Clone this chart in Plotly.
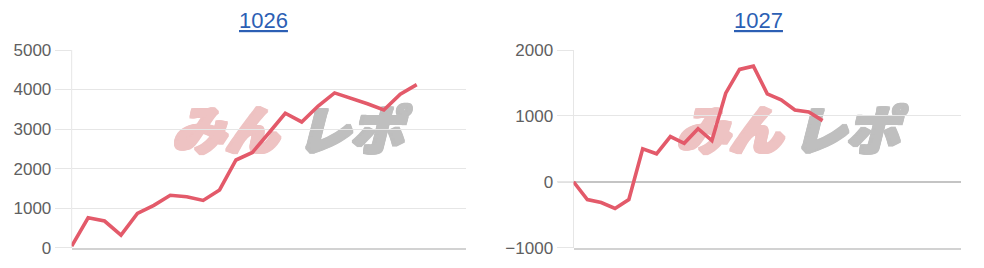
import plotly.graph_objects as go

titles = ["1026", "1027"]
values_1026 = [40, 755, 675, 320, 868, 1070, 1325, 1290, 1195, 1460, 2218, 2410,
               2900, 3400, 3180, 3583, 3915, 3785, 3640, 3482, 3885, 4125]
values_1027 = [0, -270, -315, -405, -270, 500, 425, 687, 585, 805, 625, 1345,
               1705, 1755, 1335, 1245, 1090, 1058, 928]
slots_1026 = 25
slots_1027 = 29
ticks_1026 = [0, 1000, 2000, 3000, 4000, 5000]
ticks_1027 = [-1000, 0, 1000, 2000]

W, H = 984, 268
LINE = "#e35a6a"
GRID = "#e6e6e6"
ZERO = "#c4c4c4"
BASE = "#d2d2d2"
TICKC = "#606060"
FONT = "Liberation Sans, Arial, Helvetica, sans-serif"

fig = go.Figure()
fig.add_trace(go.Scatter(x=list(range(len(values_1026))), y=values_1026, mode="lines",
                         line=dict(color=LINE, width=3.6), xaxis="x", yaxis="y",
                         showlegend=False, hoverinfo="skip"))
fig.add_trace(go.Scatter(x=list(range(len(values_1027))), y=values_1027, mode="lines",
                         line=dict(color=LINE, width=3.6), xaxis="x2", yaxis="y2",
                         showlegend=False, hoverinfo="skip"))

ydom = [(H - 247.7) / H, (H - 50) / H]
xdom1 = [71.7 / W, 466 / W]
xdom2 = [573.5 / W, 961 / W]

common_y = dict(showgrid=True, gridcolor=GRID, gridwidth=1, zeroline=True,
                zerolinecolor=ZERO, zerolinewidth=1.5, ticks="outside", ticklen=16,
                tickcolor=GRID, tickfont=dict(family=FONT, size=17, color=TICKC),
                showline=False, fixedrange=True, automargin=False)
common_x = dict(showgrid=False, zeroline=False, showticklabels=False, ticks="",
                showline=True, linecolor=BASE, linewidth=1.5, mirror=False,
                fixedrange=True, automargin=False)

fig.update_layout(
    width=W, height=H, autosize=False,
    margin=dict(l=0, r=0, t=0, b=0, pad=0, autoexpand=False),
    paper_bgcolor="white", plot_bgcolor="white",
    xaxis=dict(domain=xdom1, range=[0, slots_1026 - 1], anchor="y", **common_x),
    yaxis=dict(domain=ydom, range=[0, 5000], tickvals=ticks_1026, anchor="x", **common_y),
    xaxis2=dict(domain=xdom2, range=[0, slots_1027 - 1], anchor="y2", **common_x),
    yaxis2=dict(domain=ydom, range=[-1000, 2000], tickvals=ticks_1027, anchor="x2", **common_y),
)

# y-axis vertical border lines
for xd in (xdom1, xdom2):
    fig.add_shape(type="line", xref="paper", yref="paper", x0=xd[0], x1=xd[0],
                  y0=ydom[0], y1=ydom[1], line=dict(color=GRID, width=1), layer="below")
# darker tick stubs for the zero / base lines
fig.add_shape(type="line", xref="paper", yref="y2", x0=xdom2[0] - 16 / W, x1=xdom2[0],
              y0=0, y1=0, line=dict(color=ZERO, width=1.5), layer="below")
fig.add_shape(type="line", xref="paper", yref="y2", x0=xdom2[0] - 16 / W, x1=xdom2[0],
              y0=-1000, y1=-1000, line=dict(color=BASE, width=1.5), layer="below")
fig.add_shape(type="line", xref="paper", yref="y", x0=xdom1[0] - 16 / W, x1=xdom1[0],
              y0=0, y1=0, line=dict(color=BASE, width=1.5), layer="below")

# titles
for t, cx in zip(titles, (263.5 / W, 758.5 / W)):
    fig.add_annotation(text="<u>" + t + "</u>", x=cx, y=(H - 21) / H, xref="paper", yref="paper",
                       showarrow=False, xanchor="center", yanchor="middle",
                       font=dict(family=FONT, size=22, color="#2c5fb4"))

# watermark (drawn between grid and traces), faux-bold via small offsets
wm = [("みん", 225, "#eec3c3"), ("レポ", 350, "#bfbfbf"),
      ("みん", 729, "#eec3c3"), ("レポ", 846, "#bfbfbf")]
offsets = [(dx, dy) for dx in (-2.0, -1.0, 0.0, 1.0, 2.0) for dy in (-1.0, 0.0, 1.0)]
for txt, cx, col in wm:
    for dx, dy in offsets:
        fig.add_shape(type="rect", xref="paper", yref="paper",
                      x0=(cx + dx - 62) / W, x1=(cx + dx + 62) / W,
                      y0=(H - 162 + dy) / H, y1=(H - 108 + dy) / H,
                      line=dict(width=0), fillcolor="rgba(0,0,0,0)", layer="between",
                      label=dict(text=txt, textposition="middle center",
                                 font=dict(family="Noto Sans CJK JP", size=53, color=col,
                                           weight=900, style="italic")))

fig.write_html("out.html")
